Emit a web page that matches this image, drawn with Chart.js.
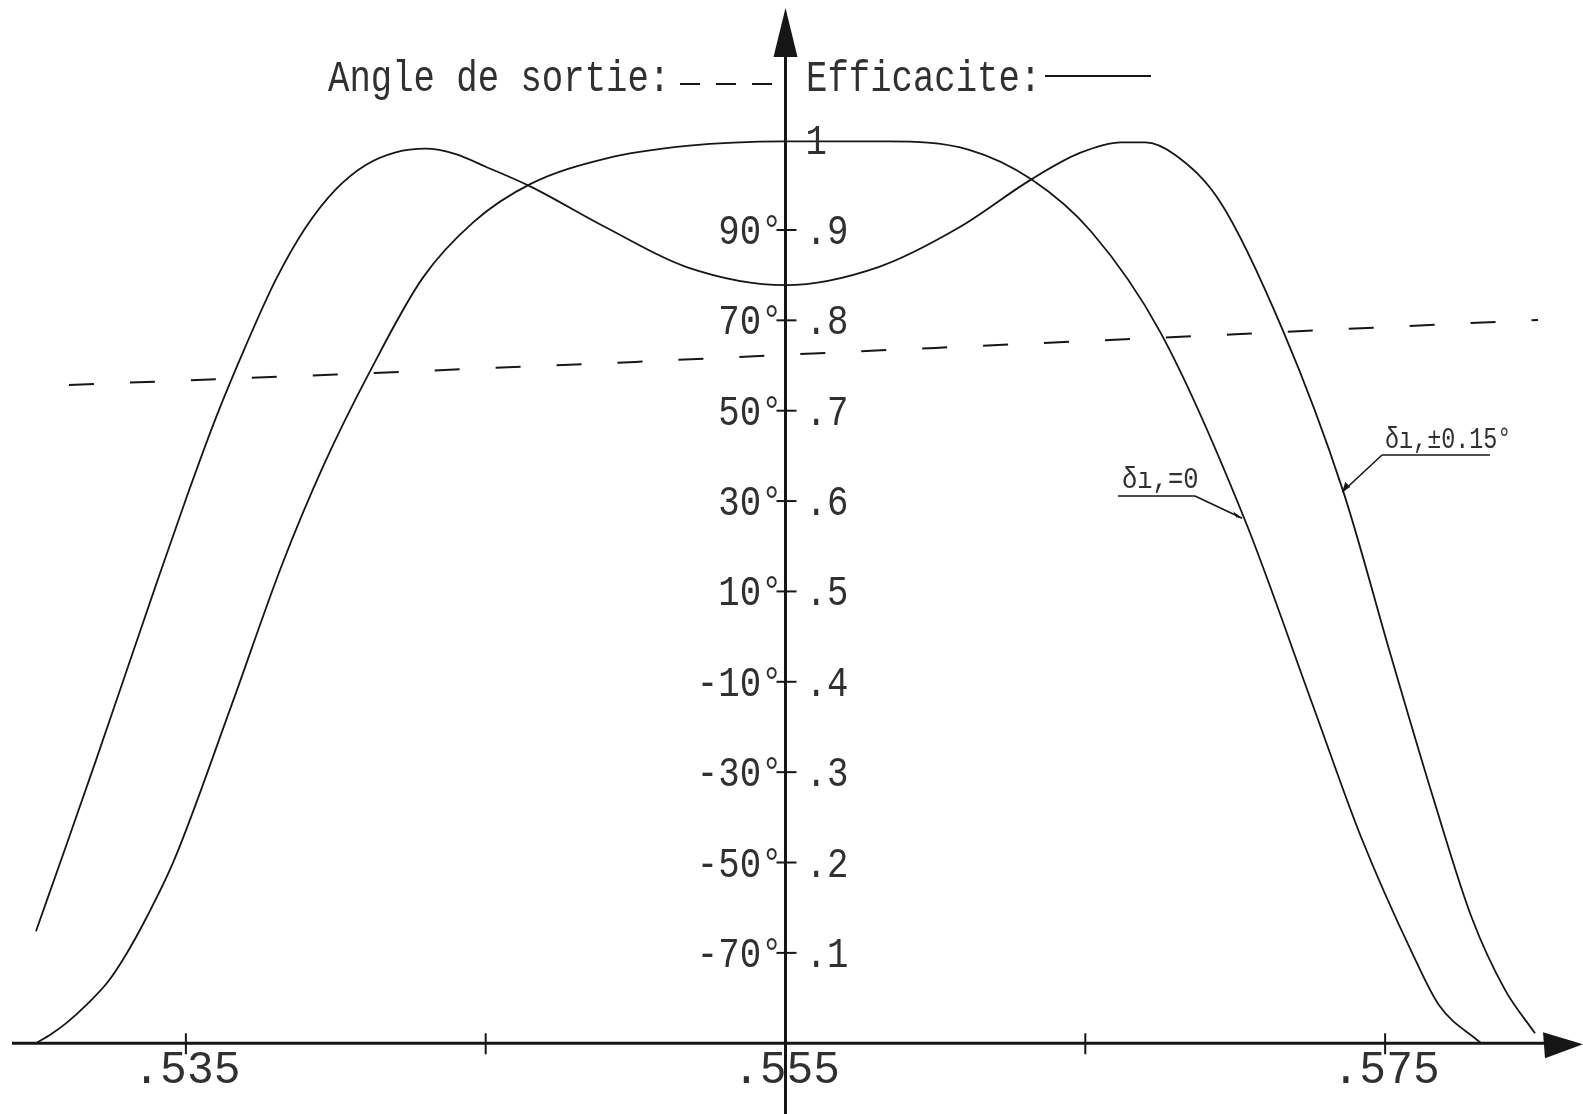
<!DOCTYPE html>
<html>
<head>
<meta charset="utf-8">
<script src="https://cdn.jsdelivr.net/npm/chart.js@4/dist/chart.umd.min.js"></script>
<style>
  html, body { margin: 0; padding: 0; background: #fff; }
  canvas { display: block; }
</style>
</head>
<body>
<canvas id="eff_chart" width="1583" height="1114"></canvas>
<script>
// Efficacite, delta i = 0 (flat top curve)
var effX0 = [0.5300, 0.5305, 0.5310, 0.5317, 0.5324, 0.5330, 0.5337, 0.5346, 0.5365, 0.5382, 0.5396, 0.5411, 0.5429, 0.5446, 0.5465, 0.5490, 0.5517, 0.5550, 0.5584, 0.5611, 0.5632, 0.5652, 0.5675, 0.5703, 0.5726, 0.5742, 0.5759, 0.5768, 0.5782]
var eff0 = [0.000, 0.010, 0.022, 0.043, 0.068, 0.098, 0.140, 0.202, 0.372, 0.529, 0.640, 0.741, 0.847, 0.909, 0.951, 0.979, 0.993, 0.998, 0.998, 0.989, 0.956, 0.898, 0.787, 0.581, 0.373, 0.228, 0.100, 0.042, 0.000]

// Efficacite, delta i = +-0.15 deg (two humps)
var effX15 = [0.5300, 0.5310, 0.5320, 0.5330, 0.5340, 0.5350, 0.5360, 0.5370, 0.5380, 0.5390, 0.5400, 0.5410, 0.5420, 0.5430, 0.5440, 0.5450, 0.5465, 0.5490, 0.5517, 0.5550, 0.5581, 0.5608, 0.5632, 0.5648, 0.5662, 0.5670, 0.5680, 0.5695, 0.5716, 0.5736, 0.5752, 0.5766, 0.5779, 0.5790, 0.5800]
var eff15 = [0.124, 0.218, 0.313, 0.410, 0.507, 0.602, 0.692, 0.772, 0.845, 0.903, 0.945, 0.972, 0.986, 0.990, 0.984, 0.970, 0.948, 0.903, 0.859, 0.839, 0.859, 0.903, 0.956, 0.985, 0.997, 0.997, 0.983, 0.931, 0.788, 0.611, 0.428, 0.272, 0.138, 0.059, 0.011]

// Angle de sortie (dashed), degrees
var angleX = [0.5311, 0.535, 0.540, 0.545, 0.550, 0.555, 0.560, 0.565, 0.570, 0.575, 0.5801]
var angleDeg = [55.7, 56.7, 58.0, 59.4, 60.8, 62.4, 63.9, 65.4, 66.9, 68.5, 70.1]

// ticks
var xTicks = [0.535, 0.545, 0.555, 0.565, 0.575]
var xTickLabels = ['.535', '', '.555', '', '.575']
var effTicks = [0.1, 0.2, 0.3, 0.4, 0.5, 0.6, 0.7, 0.8, 0.9]
var effTickLabels = ['.1', '.2', '.3', '.4', '.5', '.6', '.7', '.8', '.9']
var angleTickLabels = ['-70°', '-50°', '-30°', '-10°', '10°', '30°', '50°', '70°', '90°']

// ranges (angle axis is tied to efficacite: angle = 200*eff - 90)
var xMin = 0.5288, xMax = 0.5816
var effMin = -0.0783, effMax = 1.1545
var angMin = 200 * effMin - 90, angMax = 200 * effMax - 90

const ink = '#161616'
const textInk = '#303030'
const FONT = '"Liberation Mono", "DejaVu Sans Mono", monospace'

const pts = (xs, ys) => xs.map((v, i) => ({x: v, y: ys[i]}))

// draw text squeezed horizontally like the plotter font
const plotText = (ctx, txt, x, y, size, sx, align) => {
  ctx.save()
  ctx.translate(x, y)
  ctx.scale(sx, 1)
  ctx.font = size + 'px ' + FONT
  ctx.textAlign = align || 'left'
  ctx.textBaseline = 'alphabetic'
  ctx.fillStyle = textInk
  ctx.fillText(txt, 0, 0)
  ctx.restore()
}

const line = (ctx, x1, y1, x2, y2, w) => {
  ctx.beginPath()
  ctx.lineWidth = w
  ctx.moveTo(x1, y1)
  ctx.lineTo(x2, y2)
  ctx.stroke()
}

const tri = (ctx, a, b, c) => {
  ctx.beginPath()
  ctx.moveTo(a[0], a[1])
  ctx.lineTo(b[0], b[1])
  ctx.lineTo(c[0], c[1])
  ctx.closePath()
  ctx.fill()
}

const plotterAxes = {
  id: 'plotterAxes',
  afterDatasetsDraw(chart) {
    const ctx = chart.ctx
    const xs = chart.scales.x, ys = chart.scales.y
    const ax = xs.getPixelForValue(0.555)
    const ay = ys.getPixelForValue(0)
    ctx.save()
    ctx.strokeStyle = ink
    ctx.fillStyle = ink
    ctx.lineCap = 'butt'

    // x axis + arrow
    line(ctx, xs.getPixelForValue(0.5292), ay, 1550, ay, 3)
    tri(ctx, [1583, ay + 1], [1543, ay - 11], [1545, ay + 15])
    // y axis + arrow
    line(ctx, ax, chart.height, ax, 50, 3)
    tri(ctx, [ax, 8], [ax - 12, 57], [ax + 12, 57])

    // x ticks
    xTicks.forEach((v, i) => {
      const px = xs.getPixelForValue(v)
      line(ctx, px, ay - 10, px, ay + 11, 2)
      if (xTickLabels[i]) plotText(ctx, xTickLabels[i], px + 1, ay + 40, 46, 0.97, 'center')
    })

    // y ticks, angle labels left, efficacite labels right
    effTicks.forEach((v, i) => {
      const py = ys.getPixelForValue(v)
      line(ctx, ax - 9, py, ax + 11, py, 2)
      plotText(ctx, angleTickLabels[i], ax - 3, py + 14, 42, 0.85, 'right')
      plotText(ctx, effTickLabels[i], ax + 20, py + 14, 42, 0.85, 'left')
    })
    plotText(ctx, '1', ax + 20, ys.getPixelForValue(1) + 14, 42, 0.85, 'left')

    // legend at the top
    plotText(ctx, 'Angle de sortie:', 328, 91, 44, 0.81, 'left')
    ctx.setLineDash([20, 16])
    line(ctx, 680, 84, 774, 84, 2)
    ctx.setLineDash([])
    plotText(ctx, 'Efficacite:', 806, 91, 44, 0.81, 'left')
    line(ctx, 1045, 76, 1151, 76, 2)

    // curve labels with leaders
    plotText(ctx, 'δı,=0', 1122, 488, 30, 0.85, 'left')
    line(ctx, 1118, 496, 1195, 496, 1.6)
    const t0x = xs.getPixelForValue(0.57023), t0y = ys.getPixelForValue(0.581)
    line(ctx, 1195, 496, t0x, t0y, 1.6)
    tri(ctx, [t0x, t0y], [t0x - 9, t0y - 7], [t0x - 6, t0y - 1])

    plotText(ctx, 'δı,±0.15°', 1385, 448, 30, 0.78, 'left')
    line(ctx, 1382, 455, 1490, 455, 1.6)
    const t1x = xs.getPixelForValue(0.57357), t1y = ys.getPixelForValue(0.610)
    line(ctx, 1382, 455, t1x, t1y, 1.6)
    tri(ctx, [t1x, t1y], [t1x + 3, t1y - 10], [t1x + 8, t1y - 5])

    ctx.restore()
  }
}

new Chart(document.getElementById('eff_chart').getContext('2d'), {
  type: 'scatter',
  data: {
    datasets: [
      {
        label: 'Efficacite di=0',
        data: pts(effX0, eff0),
        showLine: true,
        borderColor: ink,
        borderWidth: 1.8,
        pointRadius: 0,
        cubicInterpolationMode: 'monotone',
        yAxisID: 'y'
      },
      {
        label: 'Efficacite di=+-0.15',
        data: pts(effX15, eff15),
        showLine: true,
        borderColor: ink,
        borderWidth: 1.8,
        pointRadius: 0,
        cubicInterpolationMode: 'monotone',
        yAxisID: 'y'
      },
      {
        label: 'Angle de sortie',
        data: pts(angleX, angleDeg),
        showLine: true,
        borderColor: ink,
        borderWidth: 2,
        borderDash: [25, 36],
        pointRadius: 0,
        tension: 0,
        yAxisID: 'yAngle'
      }
    ]
  },
  options: {
    responsive: false,
    animation: false,
    layout: { padding: 0 },
    plugins: {
      legend: { display: false },
      tooltip: { enabled: false }
    },
    scales: {
      x: { type: 'linear', min: xMin, max: xMax, display: false },
      y: { type: 'linear', min: effMin, max: effMax, display: false },
      yAngle: { type: 'linear', min: angMin, max: angMax, display: false }
    }
  },
  plugins: [plotterAxes]
})
</script>
</body>
</html>
